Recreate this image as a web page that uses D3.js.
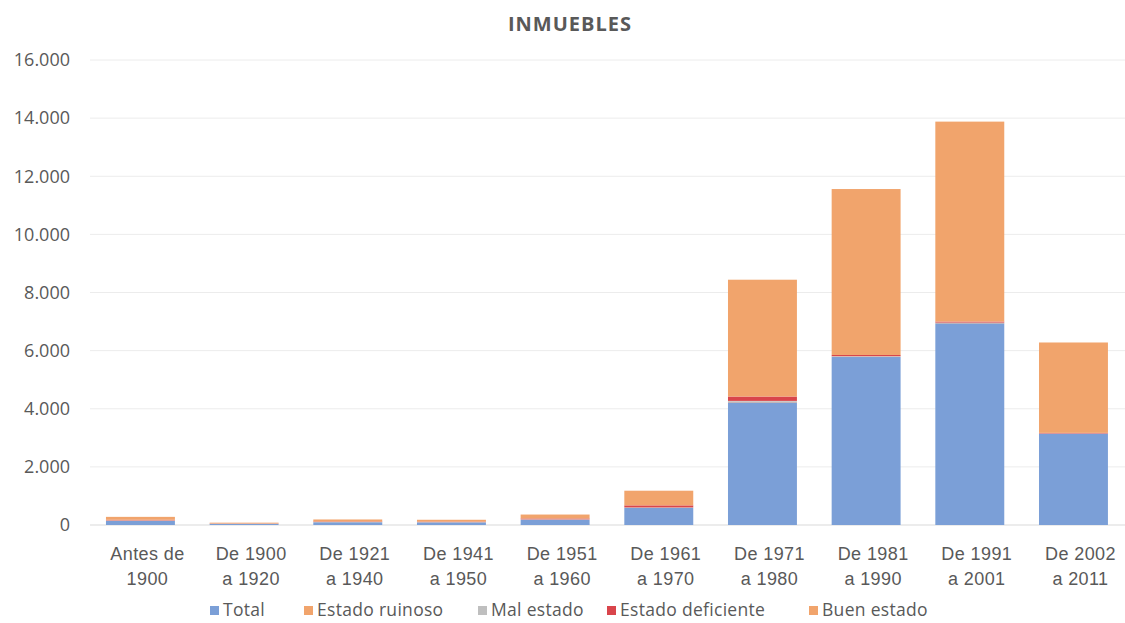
<!DOCTYPE html>
<html>
<head>
<meta charset="utf-8">
<script src="https://cdn.jsdelivr.net/npm/d3@7"></script>
<style>
  body { margin: 0; background: #fff; }
  svg { font-family: "Open Sans", sans-serif; }
</style>
</head>
<body>
<svg id="chart" width="1125" height="623"></svg>
<script>
const categories = [
  ["Antes de", "1900"], ["De 1900", "a 1920"], ["De 1921", "a 1940"], ["De 1941", "a 1950"],
  ["De 1951", "a 1960"], ["De 1961", "a 1970"], ["De 1971", "a 1980"], ["De 1981", "a 1990"],
  ["De 1991", "a 2001"], ["De 2002", "a 2011"]
];
const seriesNames = ["Total", "Estado ruinoso", "Mal estado", "Estado deficiente", "Buen estado"];
const seriesColors = ["#7b9fd7", "#f1a46c", "#bfbfbf", "#d9454b", "#f1a46c"];
const total            = [140, 40, 95, 90, 180, 590, 4220, 5780, 6940, 3140];
const estadoRuinoso    = [10, 2, 3, 3, 5, 5, 20, 10, 10, 5];
const malEstado        = [10, 3, 7, 7, 10, 10, 30, 20, 15, 5];
const estadoDeficiente = [20, 5, 15, 15, 30, 70, 150, 40, 35, 20];
const buenEstado       = [100, 30, 70, 65, 135, 505, 4020, 5710, 6880, 3110];
const yTicks = [0, 2000, 4000, 6000, 8000, 10000, 12000, 14000, 16000];

const seriesValues = [total, estadoRuinoso, malEstado, estadoDeficiente, buenEstado];
const rows = categories.map((c, i) => {
  const r = { key: i };
  seriesNames.forEach((s, j) => r[s] = seriesValues[j][i]);
  return r;
});
const stacked = d3.stack().keys(seriesNames)(rows);

const svg = d3.select("#chart");
const x = d3.scaleBand().domain(d3.range(categories.length)).range([88.6, 1125.3]).paddingInner(0.335).paddingOuter(0.1675);
const y = d3.scaleLinear().domain([0, 16000]).range([525, 60]);

const fmt = v => d3.format(",")(v).replace(/,/g, ".");

// gridlines
svg.append("g").selectAll("line").data(yTicks).join("line")
  .attr("x1", 90).attr("x2", 1125)
  .attr("y1", d => y(d)).attr("y2", d => y(d))
  .attr("stroke", d => d === 0 ? "#d9d9d9" : "#ececec").attr("stroke-width", 1);

// y axis labels
const yAxis = d3.axisLeft(y).tickValues(yTicks).tickFormat(fmt).tickSize(0).tickPadding(0);
const yg = svg.append("g").attr("transform", "translate(70,0)").call(yAxis);
yg.select(".domain").remove();
yg.selectAll("text").attr("fill", "#595959").attr("font-size", 18).attr("font-family", "Open Sans, sans-serif");

// bars
svg.append("g").selectAll("g").data(stacked).join("g")
  .attr("fill", (d, i) => seriesColors[i])
  .selectAll("rect").data(d => d).join("rect")
  .attr("x", (d, i) => x(i))
  .attr("width", x.bandwidth())
  .attr("y", d => y(d[1]))
  .attr("height", d => Math.max(0, y(d[0]) - y(d[1])));

// x labels
const xAxis = d3.axisBottom(x).tickSize(0).tickFormat(() => "");
const xg = svg.append("g").attr("transform", "translate(0,525)").call(xAxis);
xg.select(".domain").remove();
xg.selectAll(".tick").each(function(d) {
  const t = d3.select(this).append("text")
    .attr("fill", "#595959").attr("font-size", 18).attr("text-anchor", "middle")
    .attr("letter-spacing", 0.4);
  t.append("tspan").attr("x", 7).attr("y", 35).text(categories[d][0]);
  t.append("tspan").attr("x", 7).attr("y", 60).text(categories[d][1]);
});

// title
svg.append("text").attr("x", 570).attr("y", 31).attr("text-anchor", "middle")
  .attr("font-size", 20).attr("font-weight", "bold").attr("fill", "#595959")
  .attr("letter-spacing", 1)
  .text("INMUEBLES");

// legend
const legendX = [210, 304, 478, 607, 809];
const lg = svg.append("g").selectAll("g").data(seriesNames).join("g")
  .attr("transform", (d, i) => `translate(${legendX[i]},616)`);
lg.append("rect").attr("x", 0).attr("y", -10).attr("width", 9).attr("height", 9)
  .attr("fill", (d, i) => seriesColors[i]);
lg.append("text").attr("x", 13).attr("y", 0).attr("font-size", 17.5).attr("fill", "#595959")
  .attr("letter-spacing", 0.3)
  .text(d => d);
</script>
</body>
</html>
